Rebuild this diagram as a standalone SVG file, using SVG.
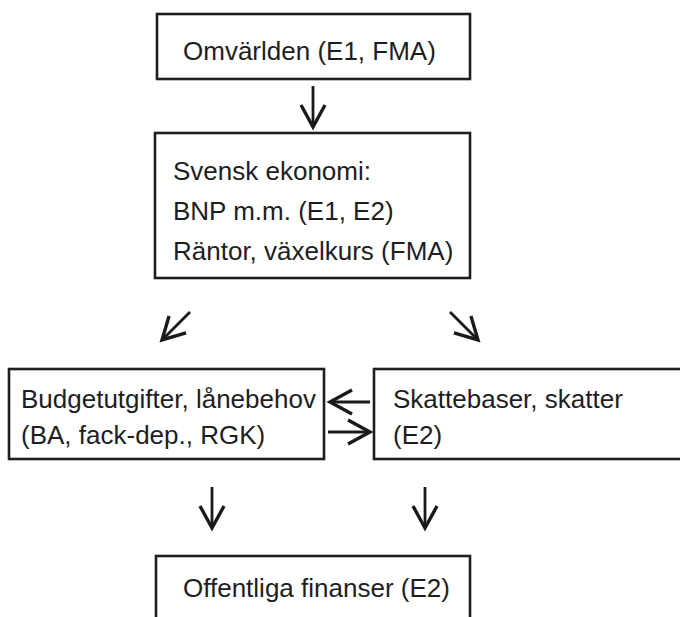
<svg xmlns="http://www.w3.org/2000/svg" width="680" height="617" viewBox="0 0 680 617">
  <style>
    .box { fill: #ffffff; stroke: #1e1e1e; stroke-width: 2.6; }
    .lbl { font-family: "Liberation Sans", Arial, sans-serif; font-size: 26px; fill: #1e1e1e; }
    .conn { stroke: #1a1a1a; stroke-width: 2.8; fill: none; }
  </style>
  <defs>
    <marker id="arr" viewBox="-27 -17 32 34" refX="0" refY="0" markerWidth="32" markerHeight="34" markerUnits="userSpaceOnUse" orient="auto">
      <path d="M -22 -12 L 0 0 L -22 12" fill="none" stroke="#1a1a1a" stroke-width="3.4"/>
    </marker>
  </defs>
  <rect width="680" height="617" fill="#ffffff"/>

  <g id="omvarlden">
    <rect class="box" x="157" y="14" width="313" height="65"/>
    <text class="lbl" x="183" y="60">Omvärlden (E1, FMA)</text>
  </g>

  <g id="svensk-ekonomi">
    <rect class="box" x="155" y="133" width="315" height="145"/>
    <text class="lbl" x="173" y="180">Svensk ekonomi:</text>
    <text class="lbl" x="173" y="220">BNP m.m. (E1, E2)</text>
    <text class="lbl" x="173" y="260">Räntor, växelkurs (FMA)</text>
  </g>

  <g id="budgetutgifter">
    <rect class="box" x="9" y="369" width="315" height="90"/>
    <text class="lbl" x="21" y="408">Budgetutgifter, lånebehov</text>
    <text class="lbl" x="21" y="444">(BA, fack-dep., RGK)</text>
  </g>

  <g id="skattebaser">
    <rect class="box" x="374" y="369" width="320" height="90"/>
    <text class="lbl" x="393" y="408">Skattebaser, skatter</text>
    <text class="lbl" x="393" y="444">(E2)</text>
  </g>

  <g id="offentliga-finanser">
    <rect class="box" x="156" y="556" width="314" height="90"/>
    <text class="lbl" x="183" y="597">Offentliga finanser (E2)</text>
  </g>

  <g id="connectors">
    <line class="conn" x1="313" y1="86" x2="313" y2="127" marker-end="url(#arr)"/>
    <line class="conn" x1="190" y1="312" x2="162" y2="340" marker-end="url(#arr)"/>
    <line class="conn" x1="450" y1="312" x2="478" y2="340" marker-end="url(#arr)"/>
    <line class="conn" x1="370" y1="402" x2="330" y2="402" marker-end="url(#arr)"/>
    <line class="conn" x1="328" y1="432" x2="370" y2="432" marker-end="url(#arr)"/>
    <line class="conn" x1="212" y1="487" x2="212" y2="528" marker-end="url(#arr)"/>
    <line class="conn" x1="425" y1="487" x2="425" y2="528" marker-end="url(#arr)"/>
  </g>
</svg>
